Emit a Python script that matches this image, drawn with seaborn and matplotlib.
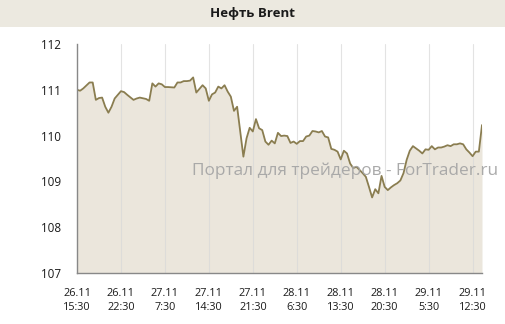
import matplotlib
matplotlib.use("Agg")
import matplotlib.pyplot as plt
import seaborn as sns
import pandas as pd

# half-hour slot index since 26.11 15:30 and Brent price
slots = [0, 1, 2, 4, 5, 6, 7, 8, 9, 10, 11, 12, 14, 15, 16, 18, 19, 20, 22, 23,
         24, 25, 26, 27, 28, 29, 31, 32, 33, 34, 35, 36, 37, 38, 39, 40, 41, 42, 43, 44,
         45, 46, 47, 48, 49, 50, 51, 53, 54, 55, 56, 57, 58, 59, 60, 61, 62, 63, 64, 65,
         66, 67, 68, 69, 70, 71, 72, 73, 74, 75, 76, 77, 78, 79, 80, 81, 82, 83, 84, 85,
         86, 87, 88, 89, 90, 91, 92, 93, 94, 95, 96, 97, 98, 99, 100, 101, 102, 103, 104, 105,
         106, 107, 108, 109, 110, 111, 112, 113, 114, 115, 116, 117, 118, 119, 120, 121, 122, 123, 124, 125,
         126, 127, 128, 129]
prices = [111.00, 110.98, 111.03, 111.16, 111.16, 110.78, 110.82, 110.83, 110.63, 110.50,
          110.63, 110.81, 110.97, 110.95, 110.89, 110.78, 110.81, 110.83, 110.80, 110.76,
          111.14, 111.07, 111.14, 111.12, 111.06, 111.06, 111.05, 111.16, 111.16, 111.19,
          111.19, 111.20, 111.27, 110.94, 111.02, 111.10, 111.03, 110.76, 110.90, 110.94,
          111.07, 111.03, 111.10, 110.96, 110.85, 110.54, 110.63, 109.54, 109.94, 110.17,
          110.09, 110.36, 110.16, 110.12, 109.87, 109.80, 109.89, 109.83, 110.06, 109.99,
          110.00, 109.99, 109.84, 109.87, 109.82, 109.88, 109.88, 109.98, 110.00, 110.10,
          110.09, 110.07, 110.10, 109.98, 109.96, 109.71, 109.69, 109.65, 109.48, 109.67,
          109.61, 109.39, 109.29, 109.32, 109.25, 109.18, 109.10, 108.88, 108.65, 108.83,
          108.74, 109.12, 108.88, 108.81, 108.87, 108.92, 108.96, 109.02, 109.18, 109.47,
          109.67, 109.77, 109.72, 109.67, 109.61, 109.70, 109.69, 109.77, 109.70, 109.74,
          109.74, 109.76, 109.79, 109.77, 109.81, 109.81, 109.83, 109.81, 109.70, 109.63,
          109.55, 109.65, 109.65, 110.23]

tick_slots = [0, 14, 28, 42, 56, 70, 84, 98, 112, 126]
tick_labels = ["26.11\n15:30", "26.11\n22:30", "27.11\n7:30", "27.11\n14:30",
               "27.11\n21:30", "28.11\n6:30", "28.11\n13:30", "28.11\n20:30",
               "29.11\n5:30", "29.11\n12:30"]
y_ticks = [107, 108, 109, 110, 111, 112]

title = "Нефть Brent"
watermark = "Портал для трейдеров - ForTrader.ru"

sns.set_style("white")
plt.rcParams["font.family"] = ["Open Sans", "DejaVu Sans"]

df = pd.DataFrame({"slot": slots, "price": prices})

fig = plt.figure(figsize=(5.06, 3.24), dpi=100)
fig.patch.set_facecolor("white")

# title band
band = fig.add_axes([0, 1 - 27 / 324, 505 / 506, 27 / 324])
band.set_facecolor("#ece9e0")
band.set_xticks([]); band.set_yticks([])
for s in band.spines.values():
    s.set_visible(False)
band.text(0.5, 0.5, title, ha="center", va="center", fontsize=9.5,
          fontweight="bold", color="#1a1a1a", transform=band.transAxes)

ax = fig.add_axes([77 / 506, 51 / 324, 405 / 506, 229 / 324])
ax.set_facecolor("white")
ax.fill_between(df["slot"], df["price"], 107, color="#ebe6dc", lw=0, zorder=1)
for t in tick_slots:
    ax.axvline(t, color="#d8d8d8", lw=0.8, alpha=0.7, zorder=2)
sns.lineplot(data=df, x="slot", y="price", ax=ax, color="#8a7d50", lw=1.3, zorder=3)

ax.set_xlim(0, 129)
ax.set_ylim(107, 112)
ax.set_xticks(tick_slots)
ax.set_xticklabels(tick_labels, fontsize=7.8, color="#1a1a1a", linespacing=1.45)
ax.set_yticks(y_ticks)
ax.set_yticklabels([str(v) for v in y_ticks], fontsize=8.4, color="#1a1a1a")
ax.set_xlabel(""); ax.set_ylabel("")
ax.tick_params(axis="x", direction="out", length=3.5, width=0.8, color="#888888", pad=7)
ax.tick_params(axis="y", direction="out", length=4.5, width=0.8, color="#888888", pad=7)
ax.grid(False)
for side in ["top", "right"]:
    ax.spines[side].set_visible(False)
for side in ["left", "bottom"]:
    ax.spines[side].set_color("#888888")
    ax.spines[side].set_linewidth(1.0)
    ax.spines[side].set_zorder(4)

fig.text(498 / 506, 1 - 171 / 324, watermark, ha="right", va="center",
         fontsize=12.4, color="#a6a6a6", alpha=0.95, zorder=10)

fig.savefig("out.png", dpi=100)
